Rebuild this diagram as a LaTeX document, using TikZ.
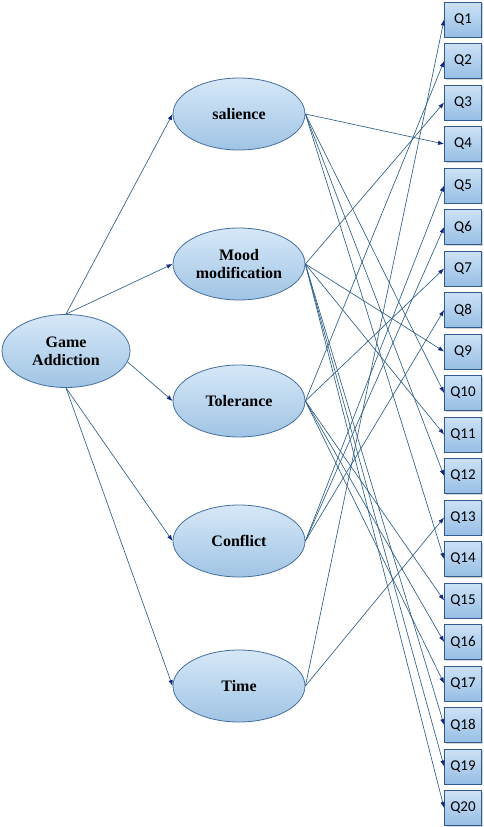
\documentclass[tikz,border=0pt]{standalone}
\usepackage{fontspec}
\setmainfont{Liberation Serif}
\newfontfamily\qfont{Carlito}
\usetikzlibrary{arrows.meta,shapes.geometric,shadows,positioning}
\definecolor{elltop}{RGB}{214,232,248}
\definecolor{ellbottom}{RGB}{160,196,228}
\definecolor{ellline}{RGB}{70,110,160}
\definecolor{boxtop}{RGB}{205,226,246}
\definecolor{boxbottom}{RGB}{150,190,228}
\definecolor{boxline}{RGB}{50,90,140}
\definecolor{linkblue}{RGB}{45,95,135}
\definecolor{tipblue}{RGB}{20,40,130}

\begin{document}
\begin{tikzpicture}[x=1pt, y=-1pt,
    link/.style={-{Latex[length=6pt,width=4.5pt,color=tipblue]},
      draw=linkblue, line width=0.65pt},
    factor/.style={ellipse, draw=ellline, line width=0.8pt,
      top color=elltop, bottom color=ellbottom,
      minimum width=132pt, minimum height=72pt, inner sep=0pt,
      align=center, font=\fontsize{16}{18}\selectfont\bfseries},
    item/.style={rectangle, draw=boxline, line width=0.8pt,
      top color=boxtop, bottom color=boxbottom,
      drop shadow={opacity=0.35, shadow xshift=1pt, shadow yshift=-1pt},
      minimum width=37pt, minimum height=35pt, inner sep=0pt,
      font=\qfont\fontsize{15}{17}\selectfont}
  ]
  \useasboundingbox (0,0) rectangle (483,827);

  \node [factor, minimum width=128pt, minimum height=73pt] (game) at (66,351) {Game\\Addiction};

  \node [factor] (sal) at (239,114) {salience};
  \node [factor] (mood) at (239,264) {Mood\\modification};
  \node [factor] (tol) at (239,401) {Tolerance};
  \node [factor] (conf) at (239,541) {Conflict};
  \node [factor] (time) at (239,686) {Time};

  % items
  \foreach \i in {1,...,20}
    \node [item] (q\i) at (463, {19.5+41.5*(\i-1)}) {Q\i};

  \draw [link] (game.north) -- (sal.west);
  \draw [link] (game.north) -- (mood.west);
  \draw [link] (game.-10) -- (tol.west);
  \draw [link] (game.south) -- (conf.west);
  \draw [link] (game.south) -- (time.west);

  \foreach \f/\q in {sal/4, sal/10, sal/12, sal/14,
      mood/3, mood/9, mood/11, mood/18, mood/19, mood/20,
      tol/2, tol/7, tol/15, tol/16, tol/17,
      conf/5, conf/6, conf/8,
      time/1, time/13}
    \draw [link] (\f.east) -- (q\q.west);

\end{tikzpicture}
\end{document}
